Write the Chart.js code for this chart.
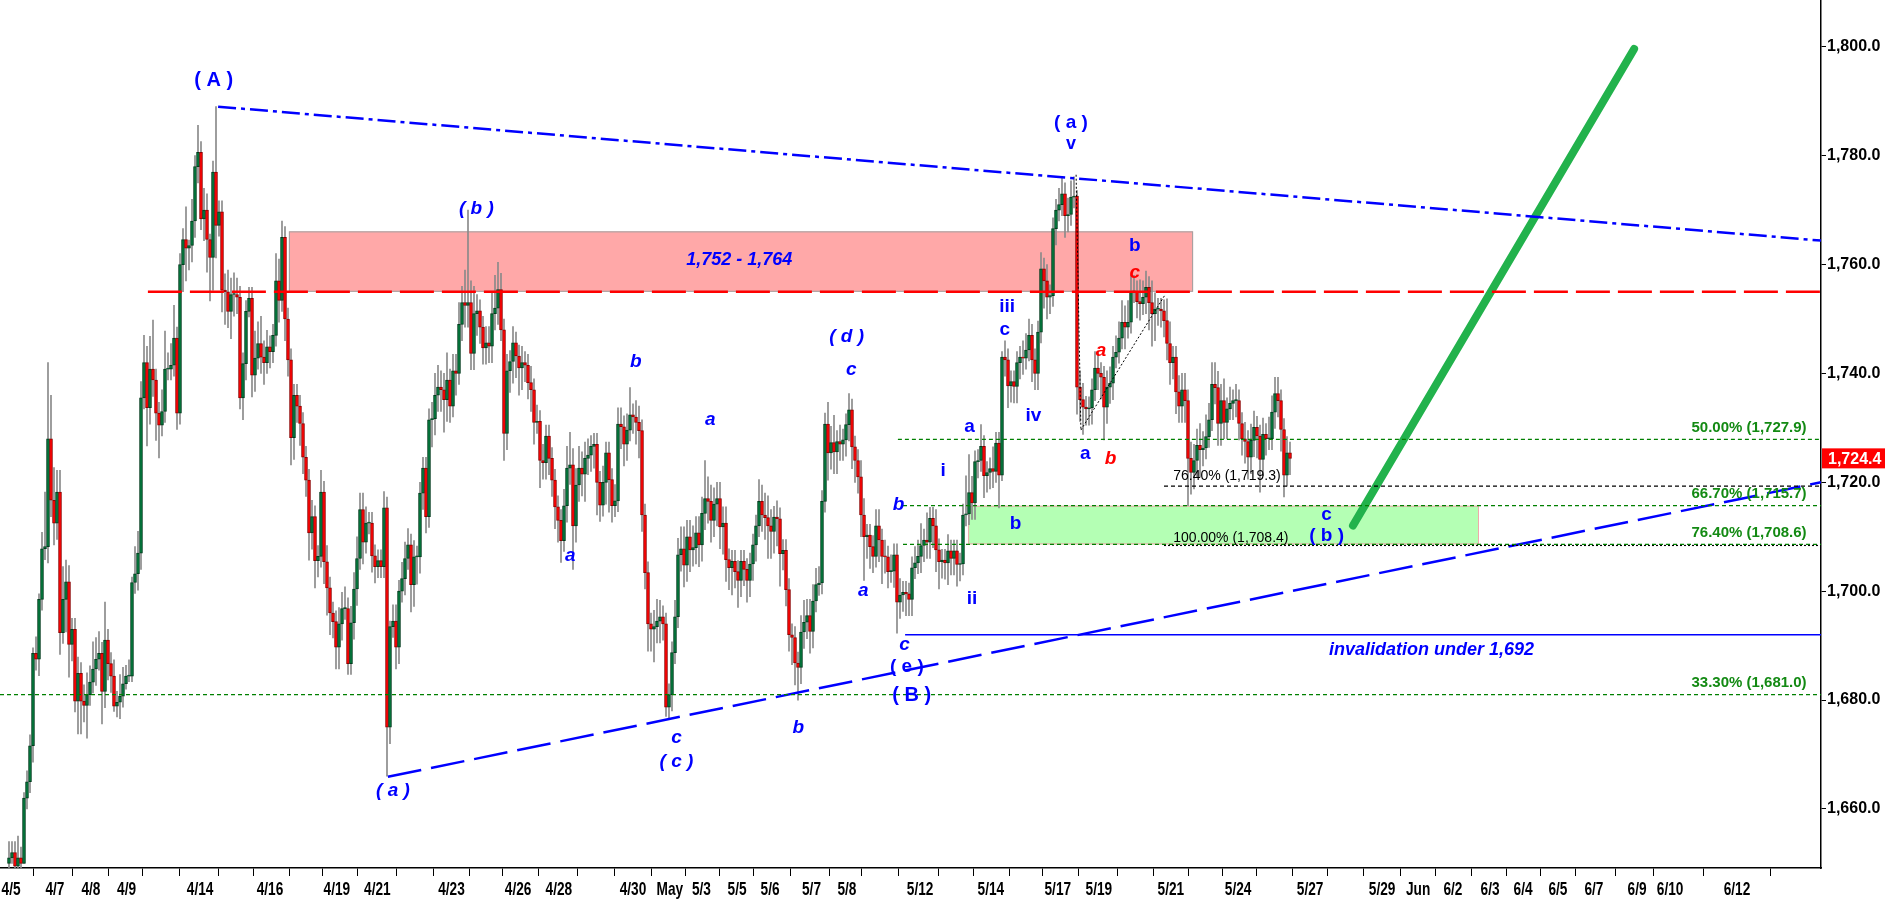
<!DOCTYPE html>
<html>
<head>
<meta charset="utf-8">
<script src="https://cdn.jsdelivr.net/npm/chart.js@4.4.1/dist/chart.umd.min.js"></script>
<style>
  html, body { margin: 0; padding: 0; background: #fff; }
  #wrap { position: relative; width: 1885px; height: 901px; }
</style>
</head>
<body>
<div id="wrap"><canvas id="c"></canvas></div>
<script>
/* Gold-style Elliott wave chart: gapless candles (open = prior close),
   trendlines, fib levels and wave labels drawn on top. */

const openFirst = 1650;

// 4/5 .. 4/21 (a) — closes, wick above body, wick below body
const closeApr = [
  1651, 1652, 1649.5, 1651, 1650, 1662, 1665, 1671.6, 1688.6, 1687.5,
  1698.5, 1707.8, 1708.2, 1728, 1716.7, 1712.5, 1718.2, 1692.4, 1698.5, 1701.7,
  1690.2, 1693, 1679.8, 1684.9, 1679.8, 1679, 1681, 1683.3, 1685.7, 1687.5,
  1688.6, 1681.6, 1691, 1686.7, 1684.4, 1678.9, 1679.6, 1680.7, 1683, 1684.4,
  1684.4, 1701.6, 1703.2, 1707, 1735.5, 1742, 1733.7, 1740.8, 1738.8, 1732.7,
  1730.5, 1733, 1740.8, 1740.8, 1741.5, 1746.5, 1732.7, 1760, 1764.6, 1763,
  1763.5, 1768, 1778, 1780.6, 1768.4, 1770, 1764.6, 1761.3, 1777, 1767.2,
  1769.7, 1755.3, 1755, 1751.4, 1754.5, 1754.5, 1754, 1735.5, 1741.8, 1751.4,
  1753.8, 1739.7, 1742.8, 1745.5, 1743, 1742, 1744.9, 1744, 1747, 1757,
  1753.4, 1765, 1750, 1742.5, 1728.2, 1736, 1734, 1730.8, 1724.6, 1720.4,
  1710.7, 1713.7, 1705.6, 1706.4, 1718.2, 1705.4, 1700.6, 1696, 1694.4, 1689.7,
  1694, 1696.8, 1696.8, 1686.7, 1694.2, 1700.4, 1706, 1715, 1709, 1712.5,
  1712.5, 1706.5, 1704.5, 1705.6, 1704.5, 1715.3
];
const upApr = [
  3, 2, 2, 4, 2, 1, 2, 2, 1, 3,
  1, 3, 10, 14, 8, 6, 4, 4, 6, 4,
  3, 2, 2, 3, 2, 3, 4, 3, 5, 4,
  4, 2, 7, 2, 2, 3, 2, 4, 3, 2,
  3, 1, 5, 4, 3, 5, 3, 6, 9, 2,
  2, 4, 7, 3, 4, 6, 2, 2, 2, 6,
  1, 4, 2, 5, 2, 4, 3, 1, 2, 12,
  2, 2, 3, 4, 3, 4, 3, 2, 2, 2,
  2, 2, 5, 4, 5, 3, 3, 2, 2, 5,
  4, 3, 2, 2, 2, 2, 2, 2, 2, 2,
  2, 3, 2, 2, 4, 2, 3, 2, 2, 2,
  3, 3, 4, 2, 3, 3, 4, 3, 3, 3,
  2, 2, 2, 2, 2, 3
];
const dnApr = [
  1.5, 1, 1, 1, 1, 0, 2, 2, 3, 2,
  3, 2, 2, 3, 3, 4, 3, 4, 2, 6,
  6, 3, 2, 6, 6, 3, 6, 2, 2, 3,
  2, 6, 3, 3, 3, 1, 2, 3, 2, 1,
  1, 1, 2, 3, 3, 2, 7, 3, 3, 5,
  6, 2, 2, 2, 2, 2, 3, 2, 5, 6,
  4, 3, 3, 3, 2, 4, 6, 8, 6, 6,
  2, 4, 6, 3, 5, 4, 3, 2, 4, 3,
  1, 4, 3, 2, 3, 4, 2, 3, 2, 2,
  4, 2, 4, 3, 5, 4, 3, 4, 3, 3,
  5, 3, 5, 3, 2, 4, 5, 4, 3, 4,
  4, 3, 2, 2, 2, 3, 3, 2, 4, 2,
  2, 3, 3, 2, 2, 2
];

// 4/21 (a) low .. 5/26
const closeMay = [
  1675, 1693.5, 1694.5, 1689.7, 1700, 1702.3, 1706, 1708.5, 1701.2, 1706.3,
  1706.3, 1718, 1722.6, 1713.7, 1731.5, 1731.7, 1736, 1737.5, 1737, 1735.2,
  1738.8, 1734, 1740.5, 1740, 1749, 1753, 1752.5, 1753, 1743.7, 1751,
  1751.5, 1748.5, 1744.7, 1745.6, 1745, 1751, 1752, 1755.4, 1748, 1729,
  1740.5, 1742.2, 1745.6, 1743.2, 1741, 1742, 1741.5, 1738.3, 1737, 1731,
  1731.2, 1724, 1723.6, 1728.5, 1724.4, 1720.4, 1715.5, 1713, 1709.3, 1715.7,
  1722.6, 1723.2, 1712, 1719.5, 1722.6, 1721.5, 1724.4, 1725, 1726.6, 1727,
  1720, 1715.8, 1720, 1725.4, 1720.5, 1715.7, 1716.6, 1730.7, 1730.2, 1727,
  1729.6, 1732.4, 1732, 1731, 1729.5, 1714, 1703.4, 1694, 1693, 1693.5,
  1694.5, 1695.3, 1694, 1678.7, 1681, 1688.7, 1695.3, 1706.7, 1707.8, 1704.8,
  1710, 1707.6, 1708, 1710.7, 1708.5, 1714.3, 1717, 1716.5, 1713, 1716,
  1717, 1711.8, 1712.5, 1705.8, 1704.3, 1705.5, 1703.6, 1702, 1705.5, 1704,
  1702, 1705, 1708.5, 1712, 1716.5, 1714, 1713.5, 1712, 1711, 1713.6,
  1713.3, 1706.9, 1707.5, 1700.3, 1692, 1691.5, 1686.8, 1686, 1692.5, 1694.3,
  1695.5, 1692.6, 1698.2, 1701.2, 1701.5, 1716.5, 1730.7, 1725.4, 1727.3, 1725.6,
  1727.5, 1727, 1727.8, 1730.6, 1733.3, 1726.5, 1724, 1721, 1714, 1710,
  1710.3, 1708.2, 1706.4, 1712, 1709.4, 1706.4, 1706.3, 1703.6, 1703.7, 1706.7,
  1698, 1699.3, 1699.8, 1699.5, 1698.5, 1704.3, 1705.2, 1706.4, 1708.4, 1709.4,
  1709, 1713.4, 1712, 1707.6, 1705.4, 1705.7, 1705.2, 1707.4, 1706, 1707.4,
  1704.9, 1705, 1714, 1714.2, 1718.1, 1716.2, 1723.8, 1724, 1726.6, 1721.2,
  1721.8, 1722.5, 1722, 1727.2, 1721.3, 1743, 1742.5, 1737.7, 1738.5, 1737.6,
  1742, 1743, 1742.8, 1744.3, 1747, 1742.5, 1740, 1747.6, 1759.2, 1757,
  1754, 1754.3, 1766.6, 1770, 1771, 1773, 1769, 1769.2, 1772.4, 1772.6,
  1737.5, 1735.2, 1733.8, 1733.5, 1733.7, 1737, 1741, 1740, 1739.3, 1733.8,
  1737.5, 1738.2, 1743, 1743.9, 1746.5, 1749.4, 1748.5, 1749.4, 1755, 1755,
  1753.2, 1752.8, 1754, 1755.8, 1753, 1751, 1751.8, 1751.8, 1751.5, 1749.7,
  1745.5, 1742, 1743, 1736.6, 1734, 1737, 1735, 1724.4, 1721.8, 1724,
  1726.8, 1726, 1726.3, 1728.4, 1731.5, 1738, 1737.4, 1730.8, 1735, 1731,
  1733.5, 1734.5, 1735, 1735, 1730.8, 1728, 1727.5, 1724.6, 1727.7, 1730.1,
  1728.5, 1724.2, 1728.8, 1728, 1728, 1732.9, 1736.3, 1735, 1729.7, 1721.3,
  1725.4, 1724.4
];
const upMay = [
  2, 1, 3, 3, 2, 3, 3, 3, 2, 3,
  2, 2, 2, 2, 2, 3, 4, 4, 3, 3,
  5, 2, 3, 3, 4, 3, 6, 17, 4, 5,
  3, 2, 2, 3, 3, 4, 6, 5, 3, 2,
  3, 2, 3, 2, 2, 3, 2, 2, 3, 2,
  3, 2, 3, 2, 2, 2, 2, 2, 2, 3,
  4, 6, 3, 3, 4, 3, 3, 3, 2, 2,
  2, 2, 3, 2, 2, 2, 3, 3, 3, 2,
  3, 5, 2, 3, 3, 2, 2, 2, 2, 3,
  4, 3, 2, 2, 2, 2, 3, 3, 4, 4,
  3, 3, 4, 3, 3, 3, 7, 4, 3, 3,
  3, 3, 3, 3, 2, 2, 2, 2, 2, 2,
  2, 2, 2, 2, 4, 3, 4, 4, 3, 2,
  3, 2, 2, 2, 2, 2, 2, 2, 3, 4,
  3, 3, 3, 3, 3, 2, 2, 4, 3, 5,
  2, 3, 2, 2, 3, 2, 2, 2, 3, 3,
  2, 2, 2, 3, 3, 2, 3, 2, 3, 2,
  2, 3, 2, 2, 2, 2, 3, 3, 4, 2,
  5, 2, 2, 3, 2, 2, 2, 3, 2, 2,
  2, 2, 2, 7, 7, 3, 2, 2, 4, 2,
  2, 2, 4, 2, 2, 1, 3, 2, 2, 2,
  2, 2, 3, 3, 3, 2, 2, 2, 3, 2,
  3, 2, 2, 2, 3, 3, 2, 3, 3, 3.5,
  1, 3, 3, 2, 2, 2, 3, 3, 2, 2,
  3, 3, 2, 3, 3, 4, 3, 4, 3, 3,
  2, 4, 3, 3, 2, 4, 3, 2, 2, 2,
  4, 4, 2, 2, 3, 3, 3, 2, 3, 3,
  3, 4, 3, 4, 3, 4, 4, 3, 3, 4,
  2, 3, 2, 3, 2, 2, 3, 2, 3, 3,
  2, 2, 3, 2, 4, 3, 3, 3, 2, 2,
  3, 2
];
const dnMay = [
  9, 3, 2, 4, 3, 2, 3, 2, 5, 4,
  5, 3, 3, 3, 2, 5, 3, 3, 4, 6,
  4, 3, 2, 4, 2, 3, 4, 4, 3, 3,
  4, 3, 3, 3, 3, 3, 3, 3, 2, 5,
  3, 4, 4, 4, 5, 4, 3, 3, 4, 4,
  2, 5, 3, 3, 3, 3, 4, 4, 4, 2,
  3, 3, 8, 3, 3, 4, 5, 3, 3, 4,
  6, 3, 2, 4, 6, 3, 2, 2, 4, 4,
  3, 2, 3, 4, 5, 3, 3, 5, 4, 6,
  3, 4, 3, 1.7, 2, 3, 2, 2, 3, 4,
  3, 4, 3, 3, 4, 3, 3, 4, 4, 3,
  4, 4, 5, 4, 4, 5, 3, 5, 3, 3,
  4, 3, 3, 3, 2, 3, 4, 6, 5, 4,
  5, 6, 3, 3, 3, 5, 4, 6, 3, 3,
  3, 4, 3, 2, 2, 2, 2, 5, 3, 4,
  4, 3, 3, 3, 3, 4, 4, 3, 4, 8,
  4, 4, 3, 2, 4, 5, 3, 3, 2, 3,
  5.7, 3, 3, 4, 3, 3, 2, 2, 3, 3,
  3, 3, 4, 4, 5, 3, 3, 4, 3, 3,
  4, 3, 2, 2, 2, 3, 3, 3, 2, 4,
  3, 3, 3, 2, 6, 1, 3, 4, 3, 3,
  3, 3, 3, 2, 2, 4, 3, 3, 2, 5,
  4, 3, 2, 3, 2, 2, 4, 3, 2, 2,
  5, 4, 5, 3, 3, 3, 2, 3, 4, 6,
  3, 3, 3, 2, 2, 2, 4, 2, 2, 2,
  3, 3, 2, 3, 5, 6, 5, 3, 3, 3,
  3, 4, 3, 4, 3, 3, 4, 8.7, 4, 3,
  3, 5, 3, 2, 2, 2, 3, 4, 4, 3,
  3, 2, 3, 3, 3, 3, 4, 4, 3, 3,
  4, 6, 3, 3, 2, 2, 3, 3, 4, 4,
  2, 3
];

// x axis: bar slot of each date tick ('' = tick mark without label)
const tickDates = ['4/5','4/7','4/8','4/9','','4/14','','4/16','','4/19','4/21','','4/23','','4/26','4/28','',
  '4/30','May','5/3','5/5','5/6','5/7','5/8','','5/12','','5/14','','5/17','5/19','','5/21','','5/24','',
  '5/27','','5/29','Jun','6/2','6/3','6/4','6/5','6/7','6/9','6/10','6/12'];
const tickSlots = [0.7, 15.3, 27.3, 39.2, 49.7, 63.7, 75.7, 87, 99.7, 109.3, 122.8, 135.7, 147.5, 159.3,
  169.7, 183.3, 195.7, 208, 220.3, 230.8, 242.7, 253.7, 267.5, 279.3, 289.3, 303.7, 315.7, 327.3, 339.5,
  349.6, 363.3, 375.7, 387.3, 399.3, 409.7, 421.7, 433.7, 445.5, 457.7, 469.7, 481.3, 493.7, 504.7,
  516.3, 528.3, 542.7, 553.7, 576];
const priceTicks = [1660, 1680, 1700, 1720, 1740, 1760, 1780, 1800];

const fibNames  = ['50.00%', '66.70%', '76.40%', '33.30%'];
const fibLevels = [1727.9, 1715.7, 1708.6, 1681.0];
const projNames  = ['76.40%', '100.00%'];
const projLevels = [1719.3, 1708.4];
const resistance = [1755, 1766.1];   // red zone, labelled 1,752 - 1,764
const supportBox = [1708.6, 1715.7];
const invalidation = 1692;
const lastPrice = 1724.4;

const X_MIN = -3, X_MAX = 604;
const BLUE = '#0000ff', RED = '#ff0000', FIBGREEN = '#138a13';

const closes = closeApr.concat(closeMay);
const ups = upApr.concat(upMay);
const dns = dnApr.concat(dnMay);
const candles = closes.map((c, i) => {
  const o = i ? closes[i - 1] : openFirst;
  return { x: i, o, c, h: Math.max(o, c) + ups[i], l: Math.min(o, c) - dns[i] };
});

const fmt1 = v => v.toLocaleString('en-US', { minimumFractionDigits: 1, maximumFractionDigits: 1 });

function seg(points, color, width, dash, extra) {
  return Object.assign({
    type: 'line', data: points, borderColor: color, borderWidth: width, borderDash: dash || [],
    pointRadius: 0, fill: false, tension: 0, order: 0
  }, extra || {});
}
const hline = (v, x0, color, width, dash) => seg([{ x: x0, y: v }, { x: X_MAX, y: v }], color, width, dash);

const overlays = [
  hline(fibLevels[3], X_MIN, '#008000', 1.2, [4, 3]),
  hline(fibLevels[0], 296.3, '#008000', 1.2, [4, 3]),
  hline(fibLevels[1], 298, '#008000', 1.2, [4, 3]),
  hline(fibLevels[2], 298, '#008000', 1.2, [4, 3]),
  hline(projLevels[0], 385, '#000', 1.2, [4, 3]),
  hline(projLevels[1], 385, '#000', 1.2, [2, 2]),
  hline(invalidation, 298.7, BLUE, 1.5),
  hline(resistance[0], 46.3, RED, 2.5, [34, 8]),
  seg([{ x: 69.7, y: 1789 }, { x: X_MAX, y: 1764.4 }], BLUE, 2.5, [18, 5, 4, 5]),
  seg([{ x: 126.3, y: 1665.9 }, { x: X_MAX, y: 1720 }], BLUE, 2.5, [34, 10]),
  seg([{ x: 355.7, y: 1776.5 }, { x: 357.3, y: 1729.6 }], '#000', 1, [2, 2]),
  seg([{ x: 357.3, y: 1729.6 }, { x: 385.3, y: 1754.4 }], '#000', 1, [2, 2]),
  seg([{ x: 448, y: 1712.05 }, { x: 541.7, y: 1799.6 }], '#22b24c', 8, [], { borderCapStyle: 'round' })
];

const waveLabels = [
  ['( A )', 68.2, 1793.8, BLUE, 'bold 20px'],
  ['( b )', 155.8, 1770.2, BLUE, 'italic bold 19px'],
  ['1,752 - 1,764', 243.4, 1760.9, BLUE, 'italic bold 18px'],
  ['( a )', 354, 1786.1, BLUE, 'bold 19px'],
  ['v', 354, 1782.1, BLUE, 'bold 18px'],
  ['b', 375.3, 1763.5, BLUE, 'bold 19px'],
  ['c', 375.3, 1758.5, RED, 'italic bold 19px'],
  ['iii', 332.7, 1752.3, BLUE, 'bold 19px'],
  ['c', 331.9, 1748.1, BLUE, 'bold 19px'],
  ['( d )', 279.2, 1746.7, BLUE, 'italic bold 19px'],
  ['c', 280.8, 1740.6, BLUE, 'italic bold 19px'],
  ['b', 208.9, 1742.1, BLUE, 'italic bold 19px'],
  ['a', 233.8, 1731.5, BLUE, 'italic bold 19px'],
  ['a', 364, 1744.1, RED, 'italic bold 19px'],
  ['iv', 341.5, 1732.2, BLUE, 'bold 19px'],
  ['a', 320.2, 1730.2, BLUE, 'bold 19px'],
  ['i', 311.4, 1722.2, BLUE, 'bold 19px'],
  ['a', 358.8, 1725.3, BLUE, 'bold 19px'],
  ['b', 367.2, 1724.4, RED, 'italic bold 19px'],
  ['b', 296.5, 1715.8, BLUE, 'italic bold 19px'],
  ['b', 335.5, 1712.3, BLUE, 'bold 19px'],
  ['a', 187.1, 1706.5, BLUE, 'italic bold 19px'],
  ['a', 284.8, 1700.1, BLUE, 'italic bold 19px'],
  ['ii', 321, 1698.6, BLUE, 'bold 19px'],
  ['c', 298.5, 1690.2, BLUE, 'italic bold 19px'],
  ['( e )', 299.3, 1686.2, BLUE, 'bold 19px'],
  ['( B )', 300.9, 1680.9, BLUE, 'bold 20px'],
  ['c', 222.5, 1673.1, BLUE, 'italic bold 19px'],
  ['( c )', 222.5, 1668.7, BLUE, 'italic bold 19px'],
  ['b', 263.1, 1674.9, BLUE, 'italic bold 19px'],
  ['( a )', 128, 1663.4, BLUE, 'italic bold 19px'],
  ['c', 439.2, 1714, BLUE, 'bold 19px'],
  ['( b )', 439.2, 1710.1, BLUE, 'bold 19px'],
  ['invalidation under 1,692', 474.2, 1689.1, BLUE, 'italic bold 18px']
];

const SANS = "'Liberation Sans', Arial, sans-serif";

function box(ctx, xs, ys, x0, x1, y0, y1, fill, stroke) {
  const l = xs.getPixelForValue(x0), r = xs.getPixelForValue(x1);
  const t = ys.getPixelForValue(y1), b = ys.getPixelForValue(y0);
  ctx.fillStyle = fill; ctx.fillRect(l, t, r - l, b - t);
  ctx.strokeStyle = stroke; ctx.lineWidth = 1; ctx.strokeRect(l + 0.5, t + 0.5, r - l - 1, b - t - 1);
}

const overlayPlugin = {
  id: 'overlay',
  beforeDatasetsDraw(chart) {
    const { ctx, scales: { x, y } } = chart;
    ctx.save();
    box(ctx, x, y, 93.3, 394.7, resistance[0], resistance[1], '#ffa8a8', '#a0a0a0');
    box(ctx, x, y, 319.7, 490, supportBox[0], supportBox[1], '#b4ffb4', '#eeaaaa');
    ctx.restore();
  },
  afterDatasetsDraw(chart) {
    const { ctx, scales: { x, y } } = chart;
    ctx.save();
    ctx.textAlign = 'center'; ctx.textBaseline = 'middle';
    waveLabels.forEach(([t, xi, yv, col, f]) => {
      ctx.font = f + ' ' + SANS; ctx.fillStyle = col;
      ctx.fillText(t, x.getPixelForValue(xi), y.getPixelForValue(yv));
    });
    ctx.textAlign = 'right'; ctx.fillStyle = FIBGREEN; ctx.font = 'bold 15px ' + SANS;
    fibLevels.forEach((v, i) => {
      ctx.fillText(`${fibNames[i]} (${fmt1(v)})`, x.getPixelForValue(599.2), y.getPixelForValue(v + 2.1));
    });
    ctx.textAlign = 'left'; ctx.fillStyle = '#000'; ctx.font = '14px ' + SANS;
    ctx.fillText(`${projNames[0]} (${fmt1(projLevels[0])})`, x.getPixelForValue(388.1), y.getPixelForValue(1721.1));
    ctx.fillText(`${projNames[1]} (${fmt1(projLevels[1])})`, x.getPixelForValue(388.1), y.getPixelForValue(1709.8));
    ctx.restore();
  },
  afterDraw(chart) {
    const { ctx, scales: { x, y }, chartArea } = chart;
    ctx.save();
    // date labels in a condensed bold face
    ctx.fillStyle = '#000'; ctx.font = 'bold 19px ' + SANS;
    ctx.textAlign = 'center'; ctx.textBaseline = 'middle';
    tickSlots.forEach((v, i) => {
      if (!tickDates[i]) return;
      ctx.save();
      ctx.translate(x.getPixelForValue(v), chartArea.bottom + 22);
      ctx.scale(0.72, 1);
      ctx.fillText(tickDates[i], 0, 0);
      ctx.restore();
    });
    // last price tag
    const py = y.getPixelForValue(lastPrice);
    ctx.fillStyle = RED;
    ctx.fillRect(chartArea.right + 1, py - 10, chart.width - chartArea.right - 1, 20);
    ctx.fillStyle = '#fff'; ctx.font = 'bold 16px ' + SANS;
    ctx.textAlign = 'left';
    ctx.fillText(fmt1(lastPrice), chartArea.right + 7, py + 1);
    ctx.restore();
  }
};

new Chart(document.getElementById('c'), {
  type: 'bar',
  data: {
    datasets: [
      {
        label: 'wick', data: candles.map(k => ({ x: k.x, y: [k.l, k.h] })),
        backgroundColor: '#8a8a8a', barThickness: 1, grouped: false, order: 2
      },
      {
        label: 'body', data: candles.map(k => ({ x: k.x, y: [k.o, k.c] })),
        backgroundColor: candles.map(k => k.c >= k.o ? '#00783a' : '#ff0000'),
        borderColor: candles.map(k => k.c >= k.o ? '#003b1c' : '#8c0000'),
        borderWidth: 1, borderSkipped: false, barThickness: 3, minBarLength: 1,
        grouped: false, order: 1
      },
      ...overlays
    ]
  },
  options: {
    responsive: true, maintainAspectRatio: false, animation: false,
    layout: { padding: 0, autoPadding: false },
    plugins: { legend: { display: false }, tooltip: { enabled: false } },
    scales: {
      x: {
        type: 'linear', min: X_MIN, max: X_MAX, offset: false,
        afterBuildTicks: s => { s.ticks = tickSlots.map(v => ({ value: v })); },
        afterFit: s => { s.height = 33; s.paddingLeft = 0; s.paddingRight = 0; },
        grid: { drawOnChartArea: false, drawTicks: true, tickLength: 8, color: '#000', lineWidth: 1 },
        border: { display: true, color: '#000', width: 1.5 },
        ticks: { display: false, autoSkip: false, maxRotation: 0 }
      },
      y: {
        type: 'linear', position: 'right', min: 1649.15, max: 1808.6,
        afterBuildTicks: s => { s.ticks = priceTicks.map(v => ({ value: v })); },
        afterFit: s => { s.width = 64; s.paddingTop = 0; s.paddingBottom = 0; },
        grid: { drawOnChartArea: false, drawTicks: true, tickLength: 5, color: '#000' },
        border: { display: true, color: '#000', width: 1.5 },
        ticks: {
          padding: 1, color: '#000', font: { family: SANS, size: 16, weight: 'bold' },
          callback: v => fmt1(v)
        }
      }
    }
  },
  plugins: [overlayPlugin]
});
</script>
</body>
</html>
